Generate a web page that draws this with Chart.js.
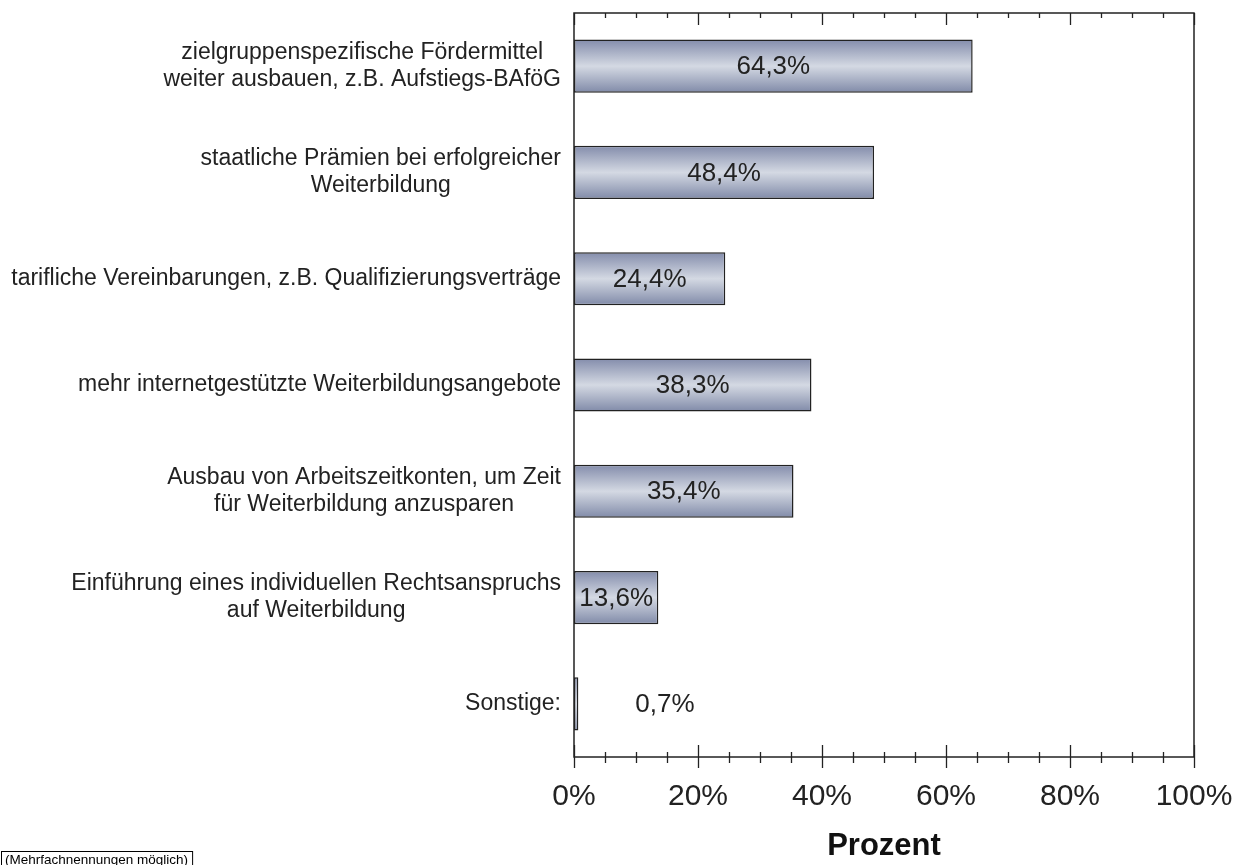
<!DOCTYPE html>
<html lang="de">
<head>
<meta charset="utf-8">
<title>Fördermaßnahmen Weiterbildung</title>
<script src="https://cdn.jsdelivr.net/npm/chart.js@4.4.1/dist/chart.umd.min.js"></script>
<style>
  html, body { margin: 0; padding: 0; background: #fff; }
  #wrap { width: 1241px; height: 865px; position: relative; }
</style>
</head>
<body>
<div id="wrap"><canvas id="foerderChart"></canvas></div>
<script>
// Antwortkategorien (mehrzeilig) und Anteile in Prozent
const categories = [
  ['zielgruppenspezifische Fördermittel', 'weiter ausbauen, z.B. Aufstiegs-BAföG'],
  ['staatliche Prämien bei erfolgreicher', 'Weiterbildung'],
  ['tarifliche Vereinbarungen, z.B. Qualifizierungsverträge'],
  ['mehr internetgestützte Weiterbildungsangebote'],
  ['Ausbau von Arbeitszeitkonten, um Zeit', 'für Weiterbildung anzusparen'],
  ['Einführung eines individuellen Rechtsanspruchs', 'auf Weiterbildung'],
  ['Sonstige:']
];
const percentages = [64.3, 48.4, 24.4, 38.3, 35.4, 13.6, 0.7];
const axisTicks = [0, 20, 40, 60, 80, 100];
const minorStep = 5;
const axisTitle = 'Prozent';
const footnote = '(Mehrfachnennungen möglich)';

const FONT = "'Liberation Sans', Arial, sans-serif";
const INK = '#222';

function fmtPct(v) {
  return v.toFixed(1).replace('.', ',') + '%';
}

// vertikaler Verlauf je Balken: dunkel - hell - dunkel
function barGradient(context) {
  const chart = context.chart;
  const yScale = chart.scales.y;
  if (!yScale || !chart.chartArea) return '#aab2c6';
  const cy = yScale.getPixelForValue(context.dataIndex);
  const half = (chart.chartArea.bottom - chart.chartArea.top) / categories.length * 0.25;
  const g = chart.ctx.createLinearGradient(0, cy - half, 0, cy + half);
  g.addColorStop(0, '#838cab');
  g.addColorStop(0.5, '#d4d9e3');
  g.addColorStop(1, '#808aa8');
  return g;
}

const frameAndTicks = {
  id: 'frameAndTicks',
  afterDatasetsDraw(chart) {
    const { ctx, chartArea: a, scales: { x } } = chart;
    ctx.save();
    ctx.strokeStyle = INK;
    ctx.lineWidth = 1.5;
    ctx.strokeRect(a.left, a.top, a.right - a.left, a.bottom - a.top);
    ctx.lineWidth = 1.3;
    ctx.beginPath();
    for (let v = 0; v <= 100; v += minorStep) {
      const px = Math.round(x.getPixelForValue(v)) + 0.5;
      const major = axisTicks.includes(v);
      // oben nach innen
      ctx.moveTo(px, a.top);
      ctx.lineTo(px, a.top + (major ? 12 : 5));
      // unten über die Achse hinweg
      ctx.moveTo(px, a.bottom - (major ? 12 : 5));
      ctx.lineTo(px, a.bottom + (major ? 11 : 6));
    }
    ctx.stroke();
    ctx.restore();
  }
};

const valueLabels = {
  id: 'valueLabels',
  afterDatasetsDraw(chart) {
    const { ctx } = chart;
    const meta = chart.getDatasetMeta(0);
    ctx.save();
    ctx.font = '26px ' + FONT;
    ctx.fillStyle = INK;
    ctx.textAlign = 'center';
    ctx.textBaseline = 'middle';
    meta.data.forEach((bar, i) => {
      const text = fmtPct(percentages[i]);
      const w = ctx.measureText(text).width;
      const len = bar.x - bar.base;
      let cx = bar.base + len / 2;
      if (len < w * 0.6) cx = bar.x + 57 + w / 2;
      ctx.fillText(text, cx, bar.y + 1);
    });
    ctx.restore();
  }
};

const categoryLabels = {
  id: 'categoryLabels',
  afterDraw(chart) {
    const { ctx, chartArea: a, scales: { y } } = chart;
    ctx.save();
    ctx.font = '23px ' + FONT;
    ctx.fillStyle = INK;
    ctx.textAlign = 'center';
    ctx.textBaseline = 'middle';
    const lineH = 27;
    categories.forEach((lines, i) => {
      const maxW = Math.max(...lines.map(l => ctx.measureText(l).width));
      const cx = a.left - 13 - maxW / 2;
      const cy = y.getPixelForValue(i);
      const top = cy - (lines.length - 1) * lineH / 2;
      lines.forEach((l, k) => ctx.fillText(l, cx, top + k * lineH));
    });
    // Hinweis unten links
    ctx.font = '13.5px ' + FONT;
    ctx.textAlign = 'left';
    ctx.textBaseline = 'alphabetic';
    const fw = ctx.measureText(footnote).width;
    ctx.lineWidth = 1;
    ctx.strokeStyle = '#000';
    ctx.strokeRect(1.5, 851.5, fw + 8, 20);
    ctx.fillStyle = '#000';
    ctx.fillText(footnote, 5, 864);
    ctx.restore();
  }
};

new Chart(document.getElementById('foerderChart'), {
  type: 'bar',
  data: {
    labels: categories,
    datasets: [{
      data: percentages,
      backgroundColor: barGradient,
      borderColor: INK,
      borderWidth: 1.5,
      borderSkipped: false,
      barPercentage: 0.5,
      categoryPercentage: 1
    }]
  },
  options: {
    indexAxis: 'y',
    responsive: true,
    maintainAspectRatio: false,
    animation: false,
    layout: { padding: { left: 574, right: 47, top: 13, bottom: 0 } },
    plugins: {
      legend: { display: false },
      tooltip: { enabled: false }
    },
    scales: {
      x: {
        min: 0,
        max: 100,
        afterFit: s => {
          s.height = 108;
          s.paddingLeft = 0;
          s.paddingRight = 0;
        },
        afterBuildTicks: s => { s.ticks = axisTicks.map(v => ({ value: v })); },
        ticks: {
          callback: v => v + '%',
          font: { family: FONT, size: 30 },
          color: INK,
          padding: 22,
          maxRotation: 0
        },
        grid: { display: false, drawTicks: false },
        border: { display: false },
        title: {
          display: true,
          text: axisTitle,
          font: { family: FONT, size: 31, weight: 'bold' },
          color: '#111',
          padding: 0
        }
      },
      y: {
        display: false
      }
    }
  },
  plugins: [frameAndTicks, valueLabels, categoryLabels]
});
</script>
</body>
</html>
